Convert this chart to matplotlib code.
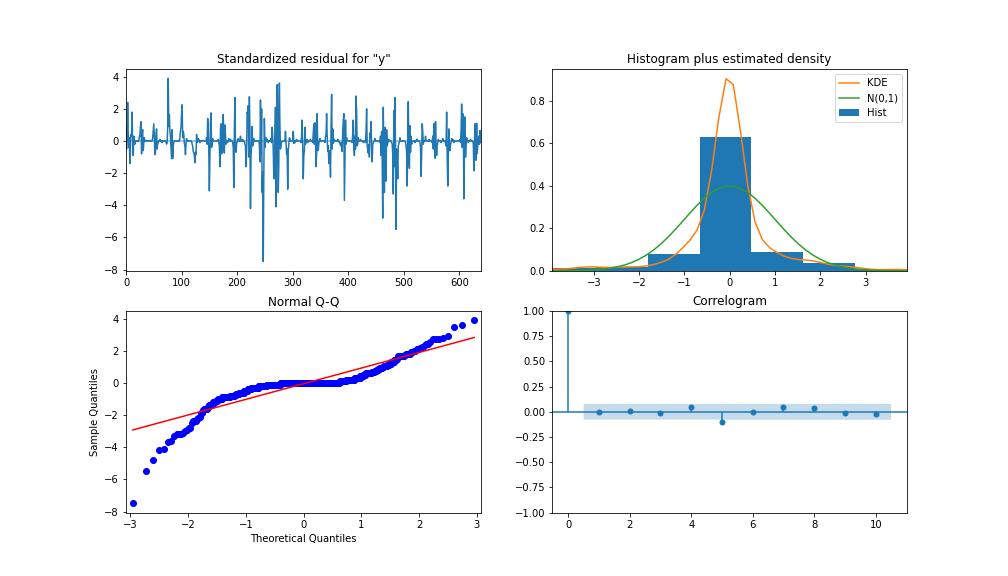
import numpy as np
import matplotlib
matplotlib.use("Agg")
import matplotlib.pyplot as plt
from statistics import NormalDist

# Standardisierte Residuen (Index 0..639)
resid = [
    0.8, -0.5, 0.3, 2.4, 0.5, -0.4, 0.2, -1.4, 0.1, 0.4, 0.3, 1.8, -0.7, -0.9, 0.3, -0.1, -0.2, 0.0, 0.02, -0.02,
    0.0, 0.01, -0.03, 0.0, 0.3, 0.3, 0.9, 1.2, -0.8, 0.4, 0.7, -0.6, -0.15, 0.2, -0.02, 0.01, 0.0, 0.03, -0.01, 0.0,
    0.02, -0.01, 0.0, 0.0, 0.03, -0.02, 0.0, 0.01, 0.2, 0.6, 1.07, 0.3, -0.85, -0.7, 0.4, 0.75, -0.5, -0.2, -0.1, 0.0,
    0.01, 0.1, -0.02, 0.0, 0.01, -0.1, 0.02, -0.01, 0.0, 0.0, 0.03, 0.0, -0.02, -0.2, -0.1, 0.8, 3.9, 0.9, 1.65, 0.6,
    0.25, -0.45, -1.1, 0.7, -1.1, -0.3, -0.1, 0.02, -0.01, 0.0, 0.0, 0.01, -0.02, 0.0, 0.03, 0.0, -0.01, 0.2, 0.6, 0.9,
    1.7, 2.25, 0.2, 0.6, 0.4, -0.15, -0.3, -0.85, -0.2, 0.15, 0.0, 0.01, 0.0, -0.02, 0.0, 0.02, 0.0, -0.01, 0.0, -0.2,
    -0.3, -0.65, -0.75, -0.9, -1.35, -0.7, -0.85, 0.4, -0.1, -0.05, 0.15, 0.1, -0.01, -0.1, 0.0, 0.01, -0.02, 0.0, 0.0, 0.02,
    0.0, -0.01, 0.0, 0.02, 0.0, 0.2, -0.2, 1.4, 0.6, -0.65, -3.1, -0.9, 1.1, 1.75, -0.4, -0.15, 0.15, -0.02, 0.0, 0.01,
    0.0, 0.0, -0.01, 0.0, 0.02, 0.0, 0.1, -0.1, -0.3, -1.6, 0.75, 1.07, -0.8, -0.65, 0.5, 1.65, -0.3, -0.75, 1.0, 0.4,
    -0.2, 0.01, -0.02, -0.1, 0.0, 0.15, 0.0, -0.01, 0.1, 0.0, 0.02, 0.0, -0.1, -0.4, -2.9, 0.6, 2.7, -0.3, -0.7, -0.2,
    -0.05, 0.0, 0.15, 0.0, -0.01, 0.0, 0.3, 0.0, -0.02, 0.0, 0.1, 0.0, 0.0, -0.02, -0.2, -0.3, -1.6, -0.8, 1.8, 1.7,
    2.2, -1.0, 2.75, 0.7, -4.2, -0.9, -0.3, 0.9, -0.3, -0.15, 0.15, 0.01, -0.02, 0.0, 0.0, 0.02, 0.0, -0.01, 0.0, 0.0,
    -0.2, -1.3, 2.55, -0.8, 2.0, -3.2, -1.9, -7.5, -2.1, 1.4, -0.4, -0.1, 0.2, 0.02, 0.1, -0.01, -0.1, 0.0, 0.01, 0.0,
    0.0, 0.15, -0.1, 0.85, 0.3, -0.6, -2.35, -1.2, 0.5, 2.1, -4.1, -1.0, 3.5, 1.9, -3.2, -1.5, 3.6, 1.0, -0.5, -0.2,
    -0.1, 0.0, -0.02, 0.0, 0.01, 0.0, 0.0, 0.6, -0.1, -0.8, -0.5, -3.0, -0.6, -0.2, 0.2, 0.15, -0.01, 0.0, 0.02, 0.0,
    0.0, 0.6, -0.15, -0.01, -0.1, 0.02, 0.0, 0.1, -0.02, 0.0, 0.01, 0.0, 0.0, -0.01, 0.0, -0.1, 0.4, 1.3, -0.3, -2.35,
    -0.9, -0.6, 0.85, -0.2, -0.02, 0.0, 0.1, -0.1, 0.0, -0.01, 0.0, 0.02, 0.1, 0.0, -0.02, 0.0, -0.1, 0.55, 1.07, -0.2,
    1.13, 0.6, -1.6, -0.8, 1.7, -0.3, -0.6, -0.15, 0.0, 0.15, 0.0, -0.02, 0.0, 0.0, 0.02, 0.0, -0.01, 0.0, -0.1, 0.3,
    0.3, 1.7, 0.3, -0.65, -0.3, -1.4, -0.6, -0.8, -2.25, 0.8, 2.9, -0.5, 0.75, -0.15, 0.0, 0.1, 0.0, 0.02, 0.0, 0.0,
    -0.01, 0.1, 0.0, 0.02, -0.1, -0.1, -0.3, -0.2, -0.1, -0.65, 0.6, 1.3, 1.7, -3.7, -1.0, 1.3, -0.2, 0.2, 0.0, 0.0,
    0.01, 0.0, -0.02, 0.0, 0.0, 0.01, 0.0, -0.1, 0.5, 1.3, -0.4, -0.9, 0.3, -0.5, 2.8, 1.8, -0.3, -0.2, 0.2, 0.0,
    0.0, -0.01, 0.1, 0.02, 0.0, 0.0, -0.02, -0.1, 0.0, 0.01, 0.0, -0.1, 0.6, 2.0, -0.3, -0.5, -0.75, -0.2, -1.0, 0.5,
    0.2, 1.2, -0.5, -1.3, -0.2, -0.1, -0.02, 0.0, 0.15, 0.0, 0.0, -0.01, 0.0, 0.02, 0.0, 0.0, -0.05, -0.1, 0.3, -0.9,
    0.6, -0.9, -4.8, 2.1, -1.5, -3.2, 0.85, -1.2, -2.5, 0.7, -0.3, -0.15, 0.0, 0.1, 0.0, 0.0, 0.02, 0.0, -0.1, -0.2,
    -0.8, -3.3, 1.9, -1.6, 2.7, -0.4, -5.5, -0.5, -1.1, -2.35, -0.3, -0.15, -0.05, 0.2, 0.0, -0.02, 0.0, 0.0, 0.02, 0.0,
    0.0, -0.01, 0.0, -0.1, -0.3, -0.7, -2.8, 0.6, 2.45, -0.9, -1.7, 0.95, -0.7, 0.3, -0.2, 0.0, -0.01, 0.0, 0.0, 0.02,
    -0.1, 0.0, -0.02, 0.1, 0.1, 0.0, 0.0, -0.01, 0.0, -0.1, -0.4, -2.2, -0.9, 1.07, 0.6, -0.2, 0.0, -0.02, 0.0, 0.3,
    0.0, 0.01, 0.0, 0.0, -0.02, 0.1, 0.0, 0.02, 0.0, -0.01, 0.0, -0.1, 0.3, -0.5, 1.07, -0.3, -1.07, 1.2, -0.2, -0.9,
    -0.3, -0.1, 0.1, -0.01, 0.0, 0.02, 0.0, -0.1, -0.02, 0.0, 0.15, 0.0, 0.0, -0.01, 0.0, -0.15, -0.3, 1.8, -1.0, -2.8,
    -0.9, 0.75, -0.2, -0.6, -0.2, -0.1, 0.15, 0.0, 0.1, -0.01, -0.1, 0.0, 0.01, 0.0, -0.02, 0.0, 0.0, 0.01, 0.0, 0.0,
    -0.01, 0.1, -0.1, 0.7, 2.3, -0.4, 1.7, 1.45, -3.6, -0.7, 1.5, -1.0, -0.2, 0.2, 0.0, 0.02, -0.1, -0.01, 0.0, 0.0,
    0.1, 0.0, 0.0, -0.02, 0.0, -0.2, -1.85, -0.4, 1.07, -0.3, -1.2, 1.1, -0.8, -0.3, -0.1, 0.3, -0.2, 0.65, -0.1, 0.4,
]

# Autokorrelation (Lag 0..10)
acf_lags = [0, 1, 2, 3, 4, 5, 6, 7, 8, 9, 10]
acf_vals = [1.0, -0.005, 0.01, -0.015, 0.05, -0.10, -0.003, 0.05, 0.04, -0.012, -0.02]


def plot_resid(ax, y):
    """Zeitreihe der standardisierten Residuen."""
    ix = np.arange(len(y))
    ax.plot(ix, y)
    ax.hlines(0, ix[0], ix[-1], alpha=0.5)
    ax.set_xlim(ix[0], ix[-1])
    ax.set_title('Standardized residual for "y"')


def plot_hist(ax, y):
    """Histogramm mit KDE und Standardnormalverteilung."""
    xlim = (-1.96 * 2, 1.96 * 2)
    patches = ax.hist(y, density=True)[2]
    patches[0].set_label('Hist')
    x = np.linspace(xlim[0], xlim[1])
    # Gauss-KDE mit Scott-Bandbreite
    bw = len(y) ** (-1 / 5) * np.std(y, ddof=1)
    kde = np.exp(-0.5 * ((x[:, None] - y[None, :]) / bw) ** 2).mean(axis=1) / (bw * np.sqrt(2 * np.pi))
    l1, = ax.plot(x, kde, label='KDE')
    l2, = ax.plot(x, np.exp(-0.5 * x ** 2) / np.sqrt(2 * np.pi), label='N(0,1)')
    ax.set_xlim(xlim)
    ax.legend(handles=[l1, l2, patches[0]])
    ax.set_title('Histogram plus estimated density')


def plot_qq(ax, y):
    """Normal-Q-Q-Plot mit standardisierter Linie."""
    n = len(y)
    nd = NormalDist()
    theo = np.array([nd.inv_cdf(i / (n + 1)) for i in range(1, n + 1)])
    sample = np.sort(y)
    ax.plot(theo, sample, 'bo')
    ax.plot(theo, theo * sample.std() + sample.mean(), 'r')
    ax.set_xmargin(0.02)
    ax.set_xlabel('Theoretical Quantiles')
    ax.set_ylabel('Sample Quantiles')
    ax.set_title('Normal Q-Q')


def plot_acf(ax, lags, vals, n):
    """Korrelogramm mit Bartlett-Konfidenzband."""
    lags = np.array(lags, dtype=float)
    vals = np.array(vals)
    ax.vlines(lags, [0], vals)
    ax.axhline(0, color='C0')
    ax.plot(lags, vals, marker='o', markersize=5, linestyle='None', color='C0')
    varacf = np.ones(len(vals)) / n
    varacf[0] = 0
    varacf[2:] *= 1 + 2 * np.cumsum(vals[1:-1] ** 2)
    band = 1.96 * np.sqrt(varacf)
    band_x = lags[1:].copy()
    band_x[0] -= 0.5
    band_x[-1] += 0.5
    ax.fill_between(band_x, -band[1:], band[1:], alpha=0.25)
    ax.set_ylim(-1, 1)
    ax.set_title('Correlogram')


def main():
    y = np.array(resid)
    fig = plt.figure(figsize=(14, 8))
    plot_resid(fig.add_subplot(221), y)
    plot_hist(fig.add_subplot(222), y)
    plot_qq(fig.add_subplot(223), y)
    plot_acf(fig.add_subplot(224), acf_lags, acf_vals, len(y))
    fig.savefig('out.png', dpi=72)


if __name__ == "__main__":
    main()
